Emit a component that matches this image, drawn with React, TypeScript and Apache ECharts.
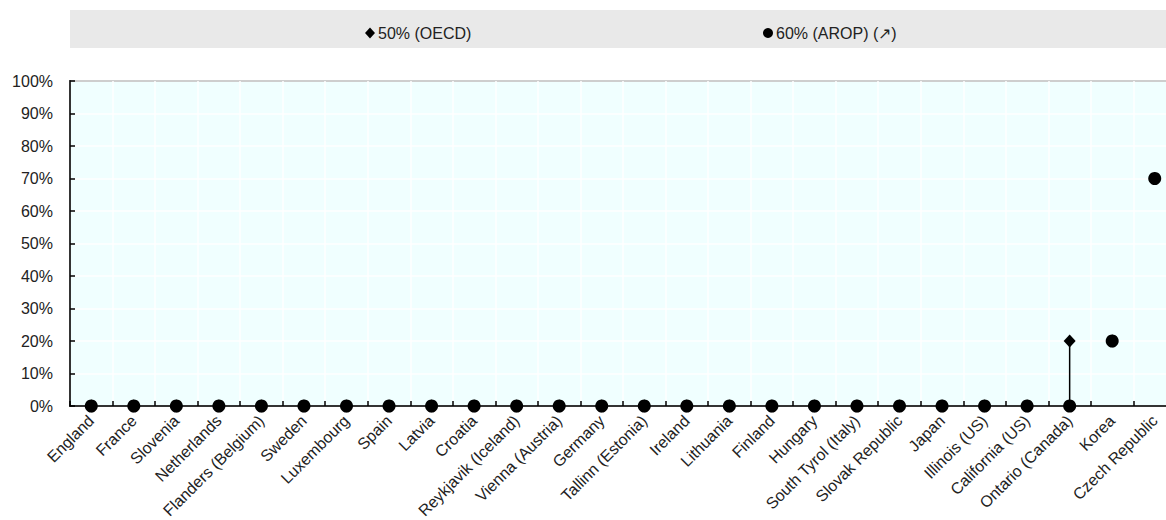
import React, { useEffect, useRef } from "react";
import * as echarts from "echarts";

const categories = [
  "England", "France", "Slovenia", "Netherlands", "Flanders (Belgium)", "Sweden",
  "Luxembourg", "Spain", "Latvia", "Croatia", "Reykjavik (Iceland)", "Vienna (Austria)",
  "Germany", "Tallinn (Estonia)", "Ireland", "Lithuania", "Finland", "Hungary",
  "South Tyrol (Italy)", "Slovak Republic", "Japan", "Illinois (US)", "California (US)",
  "Ontario (Canada)", "Korea", "Czech Republic",
];
const oecd50 = [0, 0, 0, 0, 0, 0, 0, 0, 0, 0, 0, 0, 0, 0, 0, 0, 0, 0, 0, 0, 0, 0, 0, 0.2, 0.2, 0.7];
const arop60 = [0, 0, 0, 0, 0, 0, 0, 0, 0, 0, 0, 0, 0, 0, 0, 0, 0, 0, 0, 0, 0, 0, 0, 0, 0.2, 0.7];
const yTicks = [0, 0.1, 0.2, 0.3, 0.4, 0.5, 0.6, 0.7, 0.8, 0.9, 1];

const FONT = "'Liberation Sans', Arial, sans-serif";

export default function App() {
  const ref = useRef<HTMLDivElement>(null);
  useEffect(() => {
    document.body.style.margin = "0";
    const chart = echarts.init(ref.current!, null, { renderer: "svg" });
    const ranges = categories.map((_, i) => [
      i,
      Math.min(oecd50[i], arop60[i]),
      Math.max(oecd50[i], arop60[i]),
    ]);
    chart.setOption({
      animation: false,
      textStyle: { fontFamily: FONT },
      graphic: [
        {
          type: "rect",
          shape: { x: 70, y: 10, width: 1096, height: 38 },
          style: { fill: "#e9e9e9" },
          z: -10,
        },
      ],
      legend: [
        {
          data: ["50% (OECD)"],
          left: 360,
          top: 20,
          itemWidth: 10,
          itemHeight: 11,
          itemGap: 4,
          textStyle: { fontSize: 16, color: "#222", fontFamily: FONT, padding: [0, 0, 0, -2] },
        },
        {
          data: ["60% (AROP) (\u2197)"],
          left: 758,
          top: 20,
          itemWidth: 10,
          itemHeight: 10,
          textStyle: { fontSize: 16, color: "#222", fontFamily: FONT, padding: [0, 0, 0, -2] },
        },
      ],
      grid: {
        left: 70,
        top: 81,
        width: 1106,
        height: 325,
        containLabel: false,
        outerBoundsMode: "none",
        show: true,
        backgroundColor: "#f0ffff",
        borderColor: "#000",
        borderWidth: 1.5,
      },
      xAxis: {
        type: "category",
        data: categories,
        boundaryGap: true,
        axisLine: { lineStyle: { color: "#000", width: 1.5 } },
        axisTick: { show: true, inside: true, length: 5, lineStyle: { color: "#000", width: 1.5 } },
        splitLine: { show: true, lineStyle: { color: "#ffffff", width: 1.5 } },
        axisLabel: {
          rotate: 45,
          interval: 0,
          hideOverlap: false,
          fontSize: 16,
          color: "#222",
          fontFamily: FONT,
          margin: 12,
        },
      },
      yAxis: {
        type: "value",
        min: 0,
        max: 1,
        interval: 0.1,
        axisLine: { show: true, lineStyle: { color: "#000", width: 1.5 } },
        axisTick: { show: true, inside: true, length: 5, lineStyle: { color: "#000", width: 1.5 } },
        splitLine: { show: true, lineStyle: { color: "#ffffff", width: 1.5 } },
        axisLabel: {
          fontSize: 16,
          color: "#222",
          fontFamily: FONT,
          margin: 17,
          formatter: (v: number) => (yTicks.some((t) => Math.abs(t - v) < 1e-9) ? Math.round(v * 100) + "%" : ""),
        },
      },
      series: [
        {
          type: "custom",
          name: "range",
          silent: true,
          data: ranges,
          z: 1,
          renderItem: (params: any, api: any) => {
            const x = api.value(0);
            const lo = api.coord([x, api.value(1)]);
            const hi = api.coord([x, api.value(2)]);
            return {
              type: "line",
              shape: { x1: lo[0], y1: lo[1], x2: hi[0], y2: hi[1] },
              style: { stroke: "#000", lineWidth: 1.5 },
            };
          },
        },
        {
          type: "scatter",
          name: "50% (OECD)",
          data: oecd50,
          symbol: "diamond",
          symbolSize: [12, 13],
          itemStyle: { color: "#000", opacity: 1 },
          z: 2,
        },
        {
          type: "scatter",
          name: "60% (AROP) (\u2197)",
          data: arop60,
          symbol: "circle",
          symbolSize: 13,
          itemStyle: { color: "#000", opacity: 1 },
          z: 3,
        },
      ],
    });
    return () => chart.dispose();
  }, []);
  return <div ref={ref} style={{ width: 1166, height: 520 }} />;
}
